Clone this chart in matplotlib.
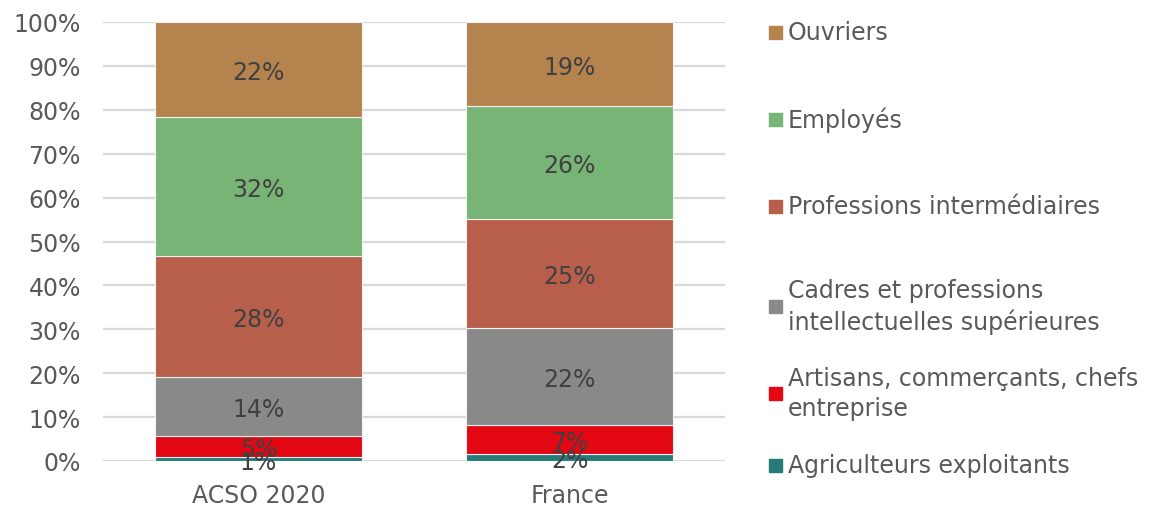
import numpy as np
import matplotlib.pyplot as plt
from matplotlib.patches import Rectangle

# Données (parts en %)
groups = ['ACSO 2020', 'France']
categories = ['Agriculteurs exploitants',
              'Artisans, commerçants, chefs\nentreprise',
              'Cadres et professions\nintellectuelles supérieures',
              'Professions intermédiaires',
              'Employés',
              'Ouvriers']
acso = [0.9, 4.7, 13.6, 27.6, 31.6, 21.6]
france = [1.6, 6.6, 22.1, 24.8, 25.8, 19.1]
colors = ['#267A77', '#E30613', '#898989', '#B75F4B', '#78B476', '#B5834E']

plt.rcParams['font.family'] = 'DejaVu Sans'

fig = plt.figure(figsize=(11.56, 5.06), dpi=100)
ax = fig.add_axes([103 / 1156, 44 / 506, 622 / 1156, 439 / 506])

x = np.arange(len(groups))
values = np.array([acso, france]).T
bottom = np.zeros(len(groups))
for vals, col in zip(values, colors):
    ax.bar(x, vals, 0.663, bottom=bottom, color=col,
           edgecolor='#F2F2F2', linewidth=0.8, zorder=2)
    for xi, b, v in zip(x, bottom, vals):
        ax.text(xi, b + v / 2 - 0.6, f"{v:.0f}%", ha='center', va='center',
                fontsize=17, color='#404040', zorder=3)
    bottom += vals

ax.set_xlim(-0.5, 1.5)
ax.set_ylim(0, 100)
ax.set_yticks(np.arange(0, 101, 10))
ax.set_yticklabels([f"{t}%" for t in range(0, 101, 10)])
ax.set_xticks(x)
ax.set_xticklabels(groups)
ax.tick_params(axis='both', length=0, labelsize=17, colors='#595959')
ax.tick_params(axis='y', pad=16)
ax.tick_params(axis='x', pad=16)
ax.grid(axis='y', color='#D9D9D9', linewidth=1.6, zorder=0)
ax.set_axisbelow(True)
for s in ax.spines.values():
    s.set_visible(False)

# Légende manuelle à droite
legend_y = [466, 394, 307, 207, 120, 33]
for cat, col, yp in zip(categories, colors, legend_y):
    yf = 1 - yp / 506
    fig.patches.append(Rectangle((769 / 1156, yf - 6.5 / 506), 13 / 1156, 13 / 506,
                                 transform=fig.transFigure, color=col))
    fig.text(788 / 1156, yf, cat, ha='left', va='center', fontsize=17,
             color='#595959', linespacing=1.3)

plt.savefig('out.png', dpi=100)
